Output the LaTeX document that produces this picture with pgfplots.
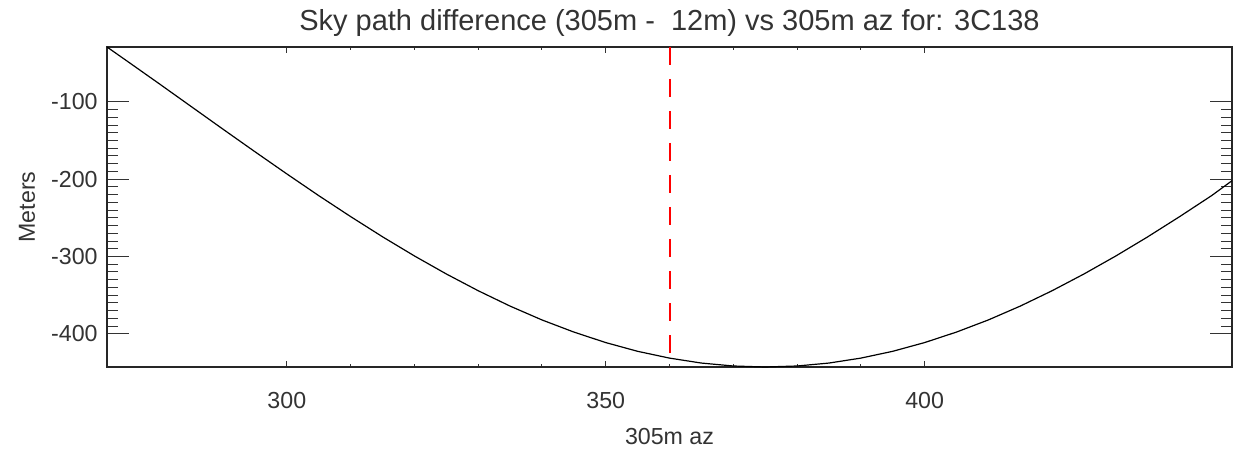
\documentclass[border=0pt]{standalone}
\usepackage{pgfplots}
\pgfplotsset{compat=1.18}
\usepackage{fontspec}
\setmainfont{Liberation Sans}
\definecolor{txt}{RGB}{51,51,51}

% sky path difference vs azimuth
\pgfplotstableread{
az     diff
271.8  -29.0
275    -47.5
280    -76.6
285    -106.0
290    -135.4
295    -164.5
300    -193.2
305    -221.3
310    -248.4
315    -274.5
320    -299.3
325    -322.6
330    -344.3
335    -364.2
340    -382.1
345    -397.8
350    -411.4
355    -422.7
360    -431.5
365    -437.9
370    -441.7
375    -443.0
380    -441.7
385    -437.9
390    -431.5
395    -422.7
400    -411.4
405    -397.8
410    -382.1
415    -364.2
420    -344.3
425    -322.6
430    -299.3
435    -274.5
440    -248.4
445    -221.3
448.2  -202.0
}\skypath

% azimuth marker
\pgfplotstableread{
az   diff
360  -29
360  -443
}\marker

\begin{document}
\begin{tikzpicture}
\path[use as bounding box] (-53.5pt,-41.5pt) rectangle (565.5pt,183.5pt);
\begin{axis}[
    at={(0,0)}, anchor=south west,
    scale only axis,
    width=562.5pt, height=160pt,
    xmin=271.8, xmax=448.2,
    ymin=-443, ymax=-29,
    xtick={300,350,400},
    ytick={-100,-200,-300,-400},
    yticklabels={-100,-200,-300,-400},
    minor x tick num=4,
    minor y tick num=9,
    tick align=inside,
    xtick pos=both, ytick pos=both,
    xticklabel pos=bottom, yticklabel pos=left,
    xtick style={/pgfplots/major tick length=3pt, /pgfplots/minor tick length=1.5pt, black!80, line width=0.5pt},
    ytick style={/pgfplots/major tick length=11pt, /pgfplots/minor tick length=5.5pt, black!80, line width=0.5pt},
    axis line style={black!85, line width=0.7pt},
    /pgf/number format/assume math mode=true,
    ticklabel style={font=\fontsize{11.6}{13}\selectfont, text=txt},
    xticklabel style={anchor=center, yshift=-17pt},
    yticklabel style={anchor=east, inner sep=0pt, xshift=-4.5pt},
    title={Sky path difference (305m -\ \ 12m) vs 305m az for: 3C138},
    title style={at={(0.5,1)}, anchor=center, yshift=6pt, font=\fontsize{14.5}{16}\selectfont, text=txt},
    xlabel={305m az},
    xlabel style={at={(0.5,0)}, anchor=center, yshift=-35pt, font=\fontsize{11.6}{13}\selectfont, text=txt},
    ylabel={Meters},
    ylabel style={at={(0,0.5)}, anchor=center, yshift=40pt, font=\fontsize{11.6}{13}\selectfont, text=txt},
    clip=true,
]
\addplot[black, line width=0.6pt, no marks] table[x=az, y=diff] {\skypath};
\addplot[red, line width=1pt, dash pattern=on 9pt off 7pt, mark=none] table[x=az, y=diff] {\marker};
\end{axis}
\end{tikzpicture}
\end{document}
